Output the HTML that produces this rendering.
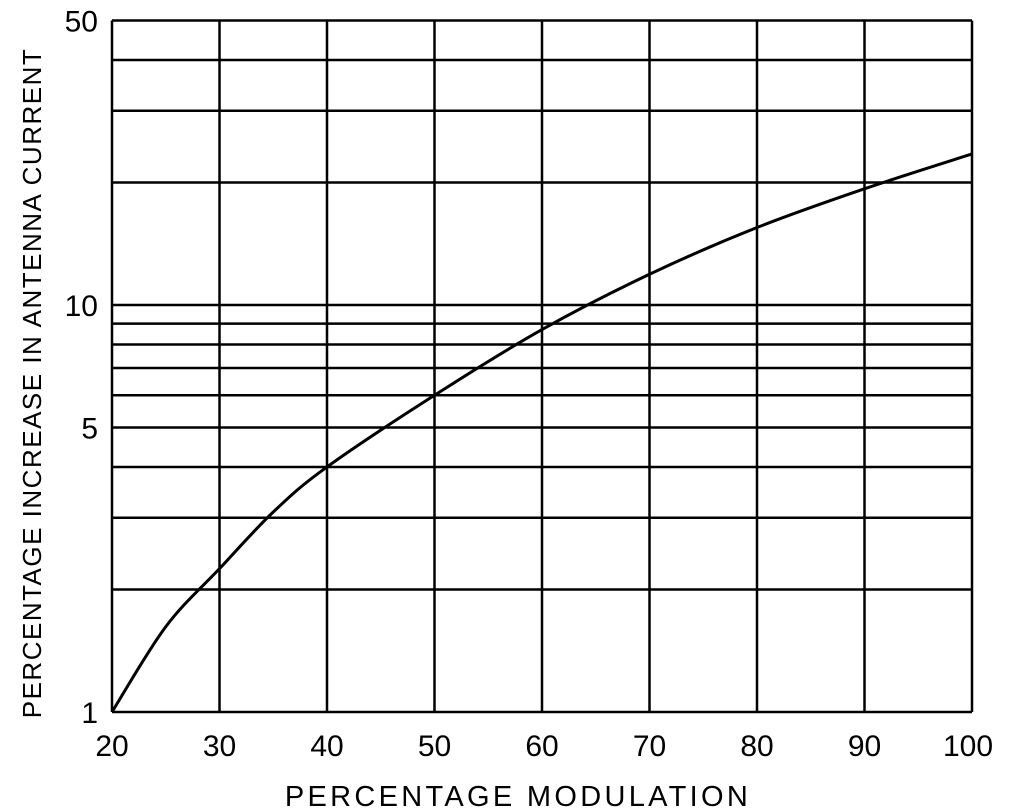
<!DOCTYPE html>
<html><head><meta charset="utf-8"><style>
html,body{margin:0;padding:0;background:#fff;}
svg{display:block;font-family:"Liberation Sans",Arial,sans-serif;}
</style></head><body>
<svg id="chart" width="1015" height="811" viewBox="0 0 1015 811" xmlns="http://www.w3.org/2000/svg">
<g id="grid"></g>
<g id="ticks"></g>
<path id="curve" fill="none" stroke="#000" stroke-width="3"/>
<text transform="translate(41,383) rotate(-90)" text-anchor="middle" font-size="26" letter-spacing="1.5">PERCENTAGE INCREASE IN ANTENNA CURRENT</text>
<text x="518" y="806" text-anchor="middle" font-size="29" letter-spacing="3.3">PERCENTAGE MODULATION</text>
</svg>
<script>
const xTicks=[20,30,40,50,60,70,80,90,100];
const yGrid=[1,2,3,4,5,6,7,8,9,10,20,30,40,50];
const yLabels=[1,5,10,50];
const modulation=[20,25,30,35,40,50,60,70,80,90,100];
const increase=[1.0,1.62,2.25,3.1,4.0,6.0,8.7,11.9,15.5,19.3,23.5];
const NS="http://www.w3.org/2000/svg";
const x0=112,x1=972,yB=712,dec=407;
const X=v=>x0+(v-20)/80*(x1-x0);
const Y=v=>yB-Math.log10(v)*dec;
const grid=document.getElementById('grid'),ticks=document.getElementById('ticks');
function line(a,b,c,d,w,name){const l=document.createElementNS(NS,'line');
l.setAttribute('x1',a);l.setAttribute('y1',b);l.setAttribute('x2',c);l.setAttribute('y2',d);
l.setAttribute('stroke','#000');l.setAttribute('stroke-width',w);


grid.appendChild(l);}
xTicks.forEach(v=>line(X(v),Y(50),X(v),Y(1),2.5,'v-gridline-'+v));
yGrid.forEach(v=>line(X(20),Y(v),X(100),Y(v),2.5,'h-gridline-'+v));
function txt(s,x,y,anchor,name){const t=document.createElementNS(NS,'text');
t.setAttribute('x',x);t.setAttribute('y',y);t.setAttribute('text-anchor',anchor);t.setAttribute('font-size','30');
t.textContent=s;


ticks.appendChild(t);}
xTicks.forEach(v=>txt(String(v),X(v)+(v===100?-4:0),756,'middle','x-tick-'+v));
yLabels.forEach(v=>txt(String(v),98,Y(v)+11,'end','y-tick-'+v));
let d='';const n=modulation.length;
const P=modulation.map((m,i)=>[X(m),Y(increase[i])]);
d='M'+P[0][0]+','+P[0][1];
for(let i=0;i<n-1;i++){const p0=P[Math.max(i-1,0)],p1=P[i],p2=P[i+1],p3=P[Math.min(i+2,n-1)];
d+=' C'+(p1[0]+(p2[0]-p0[0])/6)+','+(p1[1]+(p2[1]-p0[1])/6)+' '+(p2[0]-(p3[0]-p1[0])/6)+','+(p2[1]-(p3[1]-p1[1])/6)+' '+p2[0]+','+p2[1];}
document.getElementById('curve').setAttribute('d',d);
</script>
</body></html>
